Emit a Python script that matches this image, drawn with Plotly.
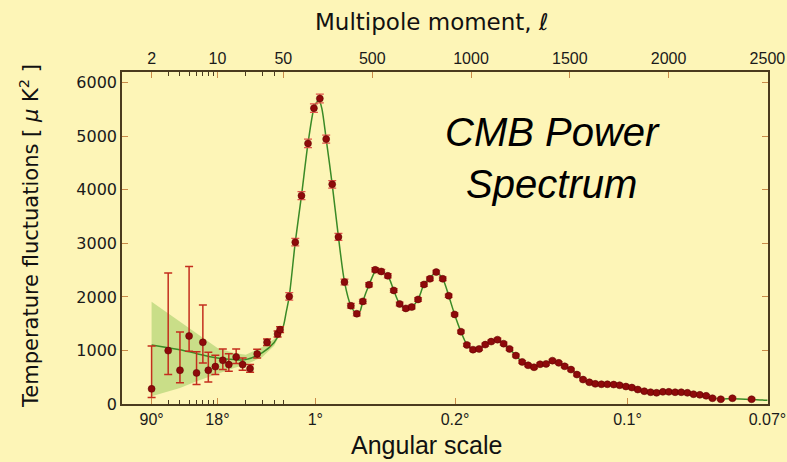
import numpy as np
import plotly.graph_objects as go

# ---------------- data ----------------
# low-l points (log part of the axis)
low_ell = [2, 3, 4, 5, 6, 7, 8, 9.5, 11.4, 13.2, 15.8, 18.5, 22.2, 26.4, 33.6, 43.5, 46.2]
low_D = [283, 997, 630, 1270, 581, 1152, 630, 698, 816, 736, 880, 736, 661, 935, 1152, 1308, 1388]
low_err_up = [802, 1448, 715, 1298, 397, 696, 335, 212, 212, 204, 148, 124, 75, 87, 60, 55, 55]
low_err_dn = [163, 447, 235, 285, 218, 385, 217, 148, 173, 125, 125, 106, 68, 75, 60, 55, 55]

# high-l binned points (linear part of the axis)
high_ell = [80, 110.6, 142, 175, 205, 235, 267, 297.5, 329, 359.6, 392, 422, 452.5, 484, 515,
            546, 579, 609, 639, 670, 700, 732, 762, 792, 824, 857, 887, 917, 949, 979, 1010,
            1041, 1072, 1102, 1134, 1165, 1195, 1227, 1259, 1289, 1319, 1349.5, 1380, 1412,
            1444, 1474, 1506, 1536, 1567, 1599, 1629, 1660, 1690, 1722, 1752, 1784, 1814,
            1844, 1877, 1909, 1939, 1971, 2001, 2033, 2064, 2095, 2126, 2158, 2190, 2222,
            2264, 2323, 2420]
high_D = [2009, 3022, 3891, 4867, 5525, 5705, 4947, 4103, 3121, 2277, 1835, 1686, 1916, 2227, 2506,
          2475, 2394, 2121, 1867, 1785, 1811, 1953, 2232, 2338, 2463, 2338, 2022, 1673, 1351, 1103, 1015,
          1028, 1109, 1165, 1202, 1127, 1028, 904, 786, 723, 686, 742, 749, 810,
          768, 704, 643, 550, 456, 406, 376, 369, 369, 363, 350, 326, 307,
          270, 239, 220, 209, 227, 227, 220, 220, 209, 183, 171, 153, 108,
          89, 108, 89]
high_err = [70, 70, 75, 80, 80, 80, 75, 70, 65, 55, 45, 40, 40, 40, 40,
            40, 40, 35, 35, 35, 35, 35, 35, 35, 35, 35, 30, 30, 30, 28, 28,
            28, 28, 28, 28, 28, 26, 26, 26, 25, 25, 25, 25, 25,
            25, 25, 25, 25, 22, 22, 22, 22, 22, 22, 22, 22, 22,
            22, 22, 22, 22, 22, 22, 22, 22, 22, 22, 22, 22, 22,
            22, 22, 22]

# best-fit model curve
model_ell = [2, 3, 4, 6, 10, 15, 20, 30, 40, 46, 50, 65, 80, 110.6, 142, 175, 205, 220, 232, 245,
             267, 297.5, 329, 360, 392, 422, 437, 452.5, 484, 515, 530, 546, 579, 609, 639, 670,
             700, 732, 762, 792, 824, 857, 887, 917, 949, 979, 1010, 1041, 1072, 1102, 1134,
             1165, 1195, 1227, 1259, 1289, 1319, 1349, 1380, 1412, 1444, 1474, 1506, 1536, 1567,
             1599, 1629, 1660, 1690, 1722, 1752, 1784, 1814, 1844, 1877, 1909, 1939, 1971, 2001,
             2033, 2064, 2095, 2126, 2158, 2190, 2222, 2264, 2323, 2420, 2500]
model_D = [1103, 1050, 1015, 941, 860, 829, 829, 960, 1150, 1330, 1450, 1720, 2010, 3022, 3891, 4867,
           5525, 5640, 5660, 5520, 4947, 4103, 3121, 2277, 1835, 1686, 1720, 1916, 2227, 2480, 2520,
           2480, 2394, 2121, 1867, 1785, 1811, 1953, 2232, 2360, 2450, 2338, 2022, 1673, 1351, 1110,
           1015, 1028, 1100, 1165, 1195, 1135, 1028, 904, 786, 723, 700, 730, 765, 790, 770, 715,
           655, 555, 460, 405, 378, 370, 368, 362, 350, 328, 305, 272, 240, 220, 212, 222, 226,
           222, 218, 208, 185, 168, 148, 115, 95, 98, 86, 70]

# cosmic-variance band (low l)
band_ell = [2, 4, 6, 10, 15, 20, 30, 40, 50]
band_up = [1910, 1543, 1326, 1047, 954, 922, 1066, 1215, 1460]
band_dn = [145, 301, 425, 568, 674, 736, 879, 1090, 1420]

top_ticks = [2, 10, 50, 500, 1000, 1500, 2000, 2500]
top_labels = ["2", "10", "50", "500", "1000", "1500", "2000", "2500"]
ang_ticks_ell = [2, 10, 212, 919, 1792, 2500]
ang_labels = ["90°", "18°", "1°", "0.2°", "0.1°", "0.07°"]
minor_ell = [3, 4, 5, 6, 7, 8, 9, 20, 30, 40, 50]
y_ticks = [0, 1000, 2000, 3000, 4000, 5000, 6000]


# hybrid axis scale: logarithmic up to l=50, linear beyond
def tx(ell):
    ell = np.asarray(ell, dtype=float)
    return np.where(ell <= 50, 284 + 94.4 * np.log10(ell / 50.0), 284 + 0.198 * (ell - 50))


X_RANGE = [float(tx(0.97)), float(tx(2500)) + 0.6]

BG = "#FDF5B7"
AXC = "#4a3a1e"
TICKC = "#c98a48"
FONT = "DejaVu Sans"
XFONT = "Liberation Sans"

fig = go.Figure()

# band
fig.add_trace(go.Scatter(x=tx(band_ell), y=band_dn, mode="lines", line=dict(width=0),
                         hoverinfo="skip", showlegend=False))
fig.add_trace(go.Scatter(x=tx(band_ell), y=band_up, mode="lines", line=dict(width=0),
                         fill="tonexty", fillcolor="rgba(150,200,90,0.5)",
                         hoverinfo="skip", showlegend=False))
# model
fig.add_trace(go.Scatter(x=tx(model_ell), y=model_D, mode="lines",
                         line=dict(color="#3a8a26", width=1.5, shape="spline", smoothing=0.8),
                         showlegend=False))
# low-l points
fig.add_trace(go.Scatter(x=tx(low_ell), y=low_D, mode="markers",
                         marker=dict(color="#8e0a0a", size=7, line=dict(color="#5a0000", width=0.5)),
                         error_y=dict(type="data", array=low_err_up, arrayminus=low_err_dn,
                                      color="#c42e1e", thickness=1.5, width=4),
                         showlegend=False))
# high-l points
fig.add_trace(go.Scatter(x=tx(high_ell), y=high_D, mode="markers",
                         marker=dict(color="#8e0a0a", size=7, line=dict(color="#5a0000", width=0.5)),
                         error_y=dict(type="data", array=high_err,
                                      color="#e0554a", thickness=1.2, width=4),
                         showlegend=False))
# invisible trace for the top axis
fig.add_trace(go.Scatter(x=X_RANGE, y=[0, 0], xaxis="x2", mode="lines",
                         line=dict(width=0), hoverinfo="skip", showlegend=False))

fig.update_layout(
    width=787, height=462,
    margin=dict(l=122, r=19, t=72, b=58, autoexpand=False),
    paper_bgcolor=BG, plot_bgcolor=BG,
    font=dict(family=FONT, color="#1a1a1a", size=15),
    xaxis=dict(range=X_RANGE, tickmode="array", tickvals=tx(ang_ticks_ell), ticktext=ang_labels,
               ticks="inside", ticklen=6, tickwidth=1, tickcolor=TICKC, ticklabeloverflow="allow",
               automargin=False,
               showline=True, linecolor=AXC, linewidth=1.5, mirror=False,
               showgrid=False, zeroline=False, tickfont=dict(size=16, family=XFONT),
               minor=dict(tickmode="array", tickvals=tx(minor_ell), ticks="inside",
                          ticklen=4, tickcolor=AXC, tickwidth=1, showgrid=False)),
    xaxis2=dict(range=X_RANGE, overlaying="x", side="top", tickmode="array",
                tickvals=tx(top_ticks), ticktext=top_labels, ticklabeloverflow="allow",
                automargin=False,
                ticks="inside", ticklen=6, tickwidth=1, tickcolor=TICKC,
                showline=True, linecolor=AXC, linewidth=1.5,
                showgrid=False, zeroline=False, tickfont=dict(size=16, family=XFONT),
                minor=dict(tickmode="array", tickvals=tx(minor_ell), ticks="inside",
                           ticklen=4, tickcolor=AXC, tickwidth=1, showgrid=False)),
    yaxis=dict(range=[0, 6200], tickmode="array", tickvals=y_ticks, automargin=False,
               ticks="inside", ticklen=6, tickwidth=1, tickcolor=TICKC,
               showline=True, linecolor=AXC, linewidth=1.5, mirror="ticks",
               showgrid=False, zeroline=False, tickfont=dict(size=16, family=FONT)),
)

fig.add_annotation(text="Multipole moment, ℓ", xref="paper", yref="paper", x=0.48, y=1.15,
                   showarrow=False, font=dict(size=23, family=FONT, color="#111"),
                   xanchor="center", yanchor="middle")
fig.add_annotation(text="Angular scale", xref="paper", yref="paper", x=0.471, y=-0.122,
                   showarrow=False, font=dict(size=25, family="Liberation Sans", color="#111"),
                   xanchor="center", yanchor="middle")
fig.add_annotation(text="Temperature fluctuations [ <i>μ</i> K<sup>2</sup> ]", xref="paper", yref="paper",
                   x=-0.144, y=0.506, textangle=-90, showarrow=False,
                   font=dict(size=21, family=FONT, color="#111"),
                   xanchor="center", yanchor="middle")
fig.add_annotation(text="<i>CMB Power<br>Spectrum</i>", xref="paper", yref="paper", x=0.666, y=0.741,
                   showarrow=False, font=dict(size=40, family="Liberation Sans", color="#000"),
                   xanchor="center", yanchor="middle", align="center")

fig.write_html("out.html")
